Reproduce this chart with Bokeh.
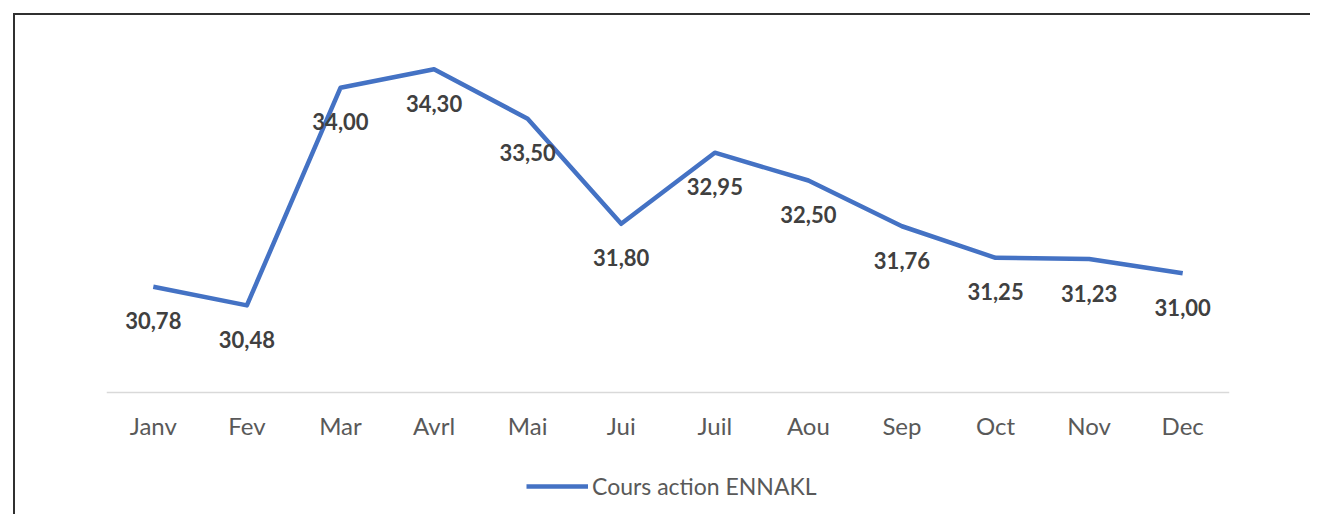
from bokeh.plotting import figure
from bokeh.models import ColumnDataSource, Range1d, Legend, LegendItem
from bokeh.core.properties import value
from bokeh.embed import file_html
from bokeh.resources import INLINE

months = ["Janv", "Fev", "Mar", "Avrl", "Mai", "Jui", "Juil", "Aou", "Sep", "Oct", "Nov", "Dec"]
prices = [30.78, 30.48, 34.00, 34.30, 33.50, 31.80, 32.95, 32.50, 31.76, 31.25, 31.23, 31.00]
labels = [f"{v:.2f}".replace(".", ",") for v in prices]
series_name = "Cours action ENNAKL"
axis_base = 29.07

src = ColumnDataSource(dict(x=months, y=prices, lab=labels))

p = figure(x_range=months, y_range=Range1d(27.096, 34.992),
           frame_width=1123, frame_height=488, output_backend="svg", toolbar_location=None,
           min_border_left=91, min_border_right=81, min_border_top=11, min_border_bottom=0)
p.styles = {"border-top": "2px solid #303030", "border-left": "2px solid #303030",
            "margin-left": "8px", "margin-top": "7px",
            "position": "relative", "left": "5px", "top": "6px"}
p.outline_line_color = None
p.grid.visible = False
p.yaxis.visible = False
p.x_range.range_padding = 0

ax = p.xaxis[0]
ax.fixed_location = axis_base
ax.axis_line_color = "#D9D9D9"
ax.axis_line_width = 1.5
ax.major_tick_line_color = None
ax.minor_tick_line_color = None
ax.major_label_text_font = "Lato"
ax.major_label_text_font_size = "24px"
ax.major_label_text_color = "#595959"
ax.major_label_standoff = 12

r = p.line("x", "y", source=src, line_color="#4472C4", line_width=4.5, line_join="round")
p.text("x", "y", text="lab", source=src, text_font=value("Lato"), text_font_style="bold",
       text_font_size="22px", text_color="#404040", text_align="center",
       text_baseline="middle", y_offset=34)

legend = Legend(items=[LegendItem(label=series_name, renderers=[r])],
                location=(420, 14), orientation="horizontal", padding=0, margin=0,
                border_line_color=None, background_fill_alpha=0,
                glyph_width=62, glyph_height=20, label_height=20,
                label_standoff=4, label_text_font="Lato", label_text_font_size="23px",
                label_text_color="#595959")
p.add_layout(legend)

open("out.html", "w").write(file_html(p, INLINE))
